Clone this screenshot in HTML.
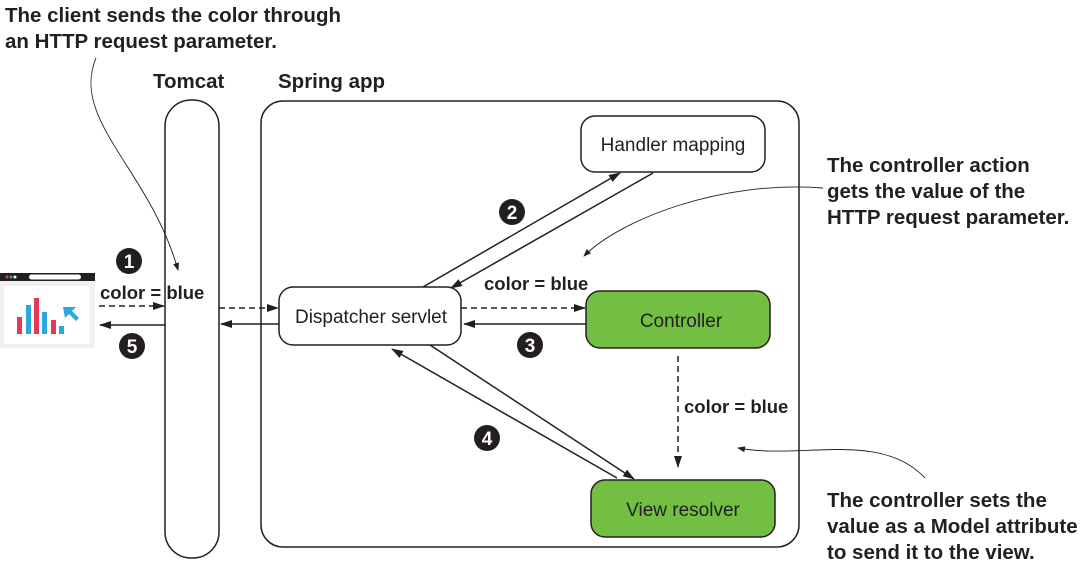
<!DOCTYPE html>
<html><head><meta charset="utf-8"><style>
html,body{margin:0;padding:0;background:#fff;}
svg{display:block;}
.ann{font-family:"Liberation Sans Narrow","Liberation Sans",sans-serif;font-weight:bold;font-size:20.5px;fill:#231f20;}
.lbl{font-family:"Liberation Sans",sans-serif;font-size:19px;fill:#231f20;}
.bl{font-family:"Liberation Sans",sans-serif;font-weight:bold;font-size:18.5px;fill:#231f20;}
.num{font-family:"Liberation Sans Narrow","Liberation Sans",sans-serif;font-weight:bold;font-size:19px;fill:#fff;}
</style></head><body>
<svg width="1089" height="567" viewBox="0 0 1089 567" xmlns="http://www.w3.org/2000/svg">
<defs>
<marker id="a" markerWidth="12" markerHeight="8" refX="11" refY="4" orient="auto" markerUnits="userSpaceOnUse"><path d="M0,0 L12,4 L0,8 z" fill="#231f20"/></marker>
<marker id="s" markerWidth="8" markerHeight="6" refX="7" refY="3" orient="auto" markerUnits="userSpaceOnUse"><path d="M0,0 L8,3 L0,6 z" fill="#231f20"/></marker>
</defs>
<!-- annotations -->
<text class="ann" x="5" y="22">The client sends the color through</text>
<text class="ann" x="5" y="48">an HTTP request parameter.</text>
<text class="ann" x="827" y="172">The controller action</text>
<text class="ann" x="827" y="198">gets the value of the</text>
<text class="ann" x="827" y="224">HTTP request parameter.</text>
<text class="ann" x="827" y="507">The controller sets the</text>
<text class="ann" x="827" y="533">value as a Model attribute</text>
<text class="ann" x="827" y="559">to send it to the view.</text>
<text class="ann" x="153" y="88">Tomcat</text>
<text class="ann" x="278" y="88">Spring app</text>
<!-- containers -->
<rect x="165" y="100" width="54" height="458" rx="26" fill="#fff" stroke="#231f20" stroke-width="1.5"/>
<rect x="261" y="101" width="538" height="446" rx="22" fill="none" stroke="#231f20" stroke-width="1.5"/>
<!-- leaders -->
<path d="M96,58 C70,120 150,170 178,270" fill="none" stroke="#231f20" stroke-width="0.9" marker-end="url(#s)"/>
<path d="M823,188 C720,180 620,220 584,256" fill="none" stroke="#231f20" stroke-width="0.9" marker-end="url(#s)"/>
<path d="M925,478 C880,430 800,460 738,448" fill="none" stroke="#231f20" stroke-width="0.9" marker-end="url(#s)"/>
<!-- nodes -->
<rect x="581" y="116" width="184" height="56" rx="14" fill="#fff" stroke="#231f20" stroke-width="1.5"/>
<text class="lbl" x="673" y="151" text-anchor="middle">Handler mapping</text>
<rect x="279" y="287" width="182" height="58" rx="14" fill="#fff" stroke="#231f20" stroke-width="1.5"/>
<text class="lbl" x="371" y="323" text-anchor="middle">Dispatcher servlet</text>
<rect x="586" y="291" width="184" height="57" rx="14" fill="#72bf44" stroke="#231f20" stroke-width="1.5"/>
<text class="lbl" x="681" y="327" text-anchor="middle">Controller</text>
<rect x="591" y="480" width="184" height="57" rx="14" fill="#72bf44" stroke="#231f20" stroke-width="1.5"/>
<text class="lbl" x="683" y="516" text-anchor="middle">View resolver</text>
<!-- connectors -->
<g stroke="#231f20" stroke-width="1.5" fill="none">
<line x1="99" y1="306" x2="164" y2="306" stroke-dasharray="6,4" marker-end="url(#a)"/>
<line x1="165" y1="325" x2="100" y2="325" marker-end="url(#a)"/>
<line x1="219" y1="308" x2="278" y2="308" stroke-dasharray="6,4" marker-end="url(#a)"/>
<line x1="279" y1="324" x2="221" y2="324" marker-end="url(#a)"/>
<line x1="423" y1="287" x2="620" y2="173" marker-end="url(#a)"/>
<line x1="653" y1="173" x2="451" y2="288" marker-end="url(#a)"/>
<line x1="461" y1="308" x2="585" y2="308" stroke-dasharray="6,4" marker-end="url(#a)"/>
<line x1="586" y1="324" x2="464" y2="324" marker-end="url(#a)"/>
<line x1="678" y1="356" x2="678" y2="467" stroke-dasharray="6,4" marker-end="url(#a)"/>
<line x1="617" y1="478" x2="392" y2="349" marker-end="url(#a)"/>
<line x1="430" y1="345" x2="634" y2="479" marker-end="url(#a)"/>
</g>
<text class="bl" x="100" y="299">color = blue</text>
<text class="bl" x="484" y="290">color = blue</text>
<text class="bl" x="684" y="413">color = blue</text>
<!-- numbers -->
<g fill="#231f20">
<circle cx="129" cy="261" r="13"/><circle cx="512" cy="212" r="13"/><circle cx="530" cy="345" r="13"/><circle cx="487" cy="438" r="13"/><circle cx="132" cy="346" r="13"/>
</g>
<text class="num" x="129" y="268" text-anchor="middle">1</text>
<text class="num" x="512" y="219" text-anchor="middle">2</text>
<text class="num" x="530" y="352" text-anchor="middle">3</text>
<text class="num" x="487" y="445" text-anchor="middle">4</text>
<text class="num" x="132" y="353" text-anchor="middle">5</text>
<!-- browser icon -->
<rect x="0" y="273" width="95" height="8" fill="#231f20"/>
<rect x="0" y="281" width="95" height="67" fill="#f0f0f0"/>
<rect x="4" y="286" width="86" height="58" fill="#fff"/>
<circle cx="7" cy="277" r="1.5" fill="#e8385a"/><circle cx="11" cy="277" r="1.5" fill="#29a9e0"/><circle cx="15" cy="277" r="1.5" fill="#fff"/>
<rect x="29" y="274.5" width="52" height="5" rx="2.5" fill="#fff"/>
<rect x="17" y="317" width="5" height="17" fill="#e8385a"/>
<rect x="26" y="305" width="5" height="29" fill="#29a9e0"/>
<rect x="34" y="298" width="5" height="36" fill="#e8385a"/>
<rect x="42" y="312" width="5" height="22" fill="#29a9e0"/>
<rect x="51" y="320" width="5" height="14" fill="#e8385a"/>
<rect x="59" y="326" width="5" height="8" fill="#29a9e0"/>
<path d="M63,307 L76,307 L72,311 L79,318 L76,321 L69,314 L65,318 z" fill="#29a9e0"/>
</svg>
</body></html>
